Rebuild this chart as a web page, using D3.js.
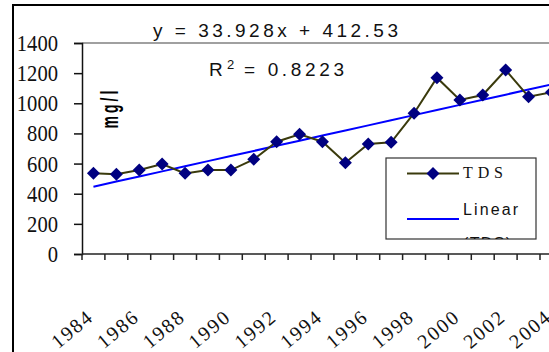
<!DOCTYPE html>
<html>
<head>
<meta charset="utf-8">
<script src="https://cdn.jsdelivr.net/npm/d3@7"></script>
<style>
  body { margin: 0; background: #fff; }
  svg { display: block; }
</style>
</head>
<body>
<svg id="chart"></svg>
<script>
const years = d3.range(1984, 2005);
const tds = [535, 529, 557, 597, 535, 557, 557, 628, 745, 794, 745, 606, 730, 741, 934, 1170, 1022, 1055, 1221, 1044, 1073];
const yTicks = [0, 200, 400, 600, 800, 1000, 1200, 1400];
const labelYears = [1984, 1986, 1988, 1990, 1992, 1994, 1996, 1998, 2000, 2002, 2004];
const trendSlope = 33.928;
const trendIntercept = 412.53;

const width = 549, height = 352;
const plot = { left: 82, top: 43, bottom: 254, band: 22.9 };

const svg = d3.select("#chart")
  .attr("width", width)
  .attr("height", height);

// outer chart frame (runs off the picture on the right and bottom)
svg.append("rect")
  .attr("x", 13).attr("y", 5)
  .attr("width", 700).attr("height", 500)
  .attr("fill", "none")
  .attr("stroke", "#000")
  .attr("stroke-width", 2);

const x = d3.scaleBand()
  .domain(years)
  .range([plot.left, plot.left + plot.band * years.length])
  .padding(0);

const y = d3.scaleLinear()
  .domain([0, 1400])
  .range([plot.bottom, plot.top]);

const cx = d => x(d) + x.bandwidth() / 2;

// plot area top border
svg.append("line")
  .attr("x1", plot.left).attr("x2", width + 10)
  .attr("y1", y(1400)).attr("y2", y(1400))
  .attr("stroke", "#808080")
  .attr("stroke-width", 1.5);

// y axis
const yAxis = svg.append("g")
  .attr("transform", `translate(${plot.left},0)`)
  .call(d3.axisLeft(y).tickValues(yTicks).tickSize(8).tickFormat(""));
yAxis.select(".domain").attr("stroke", "#111").attr("stroke-width", 1.5);
yAxis.selectAll(".tick line").attr("stroke", "#111").attr("stroke-width", 1.5);

svg.append("g").selectAll("text")
  .data(yTicks)
  .join("text")
  .attr("x", 58)
  .attr("y", d => y(d) + 8)
  .attr("text-anchor", "end")
  .attr("font-family", "'Liberation Serif', 'Times New Roman', serif")
  .attr("font-size", 23)
  .attr("textLength", d => String(d).length * 10.3)
  .attr("lengthAdjust", "spacingAndGlyphs")
  .attr("fill", "#111")
  .text(d => d);

// x axis
svg.append("line")
  .attr("x1", plot.left).attr("x2", width + 10)
  .attr("y1", plot.bottom).attr("y2", plot.bottom)
  .attr("stroke", "#222")
  .attr("stroke-width", 1.5);

svg.append("g").selectAll("line")
  .data(years.concat([null]))
  .join("line")
  .attr("x1", d => d === null ? x.range()[1] : x(d))
  .attr("x2", d => d === null ? x.range()[1] : x(d))
  .attr("y1", plot.bottom)
  .attr("y2", plot.bottom + 6)
  .attr("stroke", "#222")
  .attr("stroke-width", 1.5);

svg.append("g").selectAll("text")
  .data(labelYears)
  .join("text")
  .attr("transform", d => `translate(${cx(d)},320) rotate(-40)`)
  .attr("text-anchor", "end")
  .attr("font-family", "'Liberation Serif', 'Times New Roman', serif")
  .attr("font-size", 20)
  .attr("textLength", 46)
  .attr("lengthAdjust", "spacing")
  .attr("fill", "#111")
  .text(d => d);

// axis title
svg.append("text")
  .attr("transform", "translate(118,108) scale(1.7,1) rotate(-90)")
  .attr("text-anchor", "middle")
  .attr("font-family", "'Liberation Sans', Arial, sans-serif")
  .attr("font-weight", "bold")
  .attr("font-size", 14)
  .attr("letter-spacing", 3)
  .attr("fill", "#000")
  .text("mg/l");

// trend line
const trend = years.map((yr, i) => ({ year: yr, v: trendIntercept + trendSlope * (i + 1) }));
svg.append("path")
  .datum(trend)
  .attr("fill", "none")
  .attr("stroke", "#0000ff")
  .attr("stroke-width", 2)
  .attr("d", d3.line().x(d => cx(d.year)).y(d => y(d.v)));

// TDS series
const series = years.map((yr, i) => ({ year: yr, v: tds[i] }));
svg.append("path")
  .datum(series)
  .attr("fill", "none")
  .attr("stroke", "#3a3a0c")
  .attr("stroke-width", 2)
  .attr("d", d3.line().x(d => cx(d.year)).y(d => y(d.v)));

const diamond = "M0,-6.5L6.5,0L0,6.5L-6.5,0Z";
svg.append("g").selectAll("path")
  .data(series)
  .join("path")
  .attr("transform", d => `translate(${cx(d.year)},${y(d.v)})`)
  .attr("d", diamond)
  .attr("fill", "#000080");

// equation labels
svg.append("text")
  .attr("x", 153).attr("y", 37)
  .attr("font-family", "'Liberation Sans Narrow', 'Liberation Sans', Arial, sans-serif")
  .attr("font-size", 19)
  .attr("textLength", 245)
  .attr("lengthAdjust", "spacing")
  .attr("fill", "#111")
  .text("y = 33.928x + 412.53");

const r2 = svg.append("g").attr("font-family", "'Liberation Sans Narrow', 'Liberation Sans', Arial, sans-serif").attr("fill", "#111");
r2.append("text").attr("x", 209).attr("y", 76).attr("font-size", 19).text("R");
r2.append("text").attr("x", 227).attr("y", 69).attr("font-size", 13).text("2");
r2.append("text").attr("x", 244).attr("y", 76).attr("font-size", 19)
  .attr("textLength", 100).attr("lengthAdjust", "spacing").text("= 0.8223");

// legend
const legend = svg.append("g");
svg.append("clipPath").attr("id", "legclip")
  .append("rect").attr("x", 386).attr("y", 158).attr("width", 150).attr("height", 81);
legend.append("rect")
  .attr("x", 386).attr("y", 158).attr("width", 150).attr("height", 81)
  .attr("fill", "#fff").attr("stroke", "#333").attr("stroke-width", 1.2);
legend.append("line")
  .attr("x1", 407).attr("x2", 459).attr("y1", 173.5).attr("y2", 173.5)
  .attr("stroke", "#3a3a0c").attr("stroke-width", 2);
legend.append("path").attr("transform", "translate(433,173.5)").attr("d", diamond).attr("fill", "#000080");
legend.append("text")
  .attr("x", 463).attr("y", 178)
  .attr("font-family", "'Liberation Serif', 'Times New Roman', serif")
  .attr("font-size", 16)
  .attr("textLength", 40).attr("lengthAdjust", "spacing")
  .attr("fill", "#111").text("TDS");
legend.append("line")
  .attr("x1", 407).attr("x2", 459).attr("y1", 219).attr("y2", 219)
  .attr("stroke", "#0000ff").attr("stroke-width", 2);
const legText = legend.append("g").attr("clip-path", "url(#legclip)")
  .attr("font-family", "'Liberation Sans Narrow', 'Liberation Sans', Arial, sans-serif")
  .attr("font-size", 16).attr("fill", "#111");
legText.append("text").attr("x", 463).attr("y", 215)
  .attr("textLength", 55).attr("lengthAdjust", "spacing").text("Linear");
legText.append("text").attr("x", 463).attr("y", 249)
  .attr("textLength", 48).attr("lengthAdjust", "spacing").text("(TDS)");
</script>
</body>
</html>
